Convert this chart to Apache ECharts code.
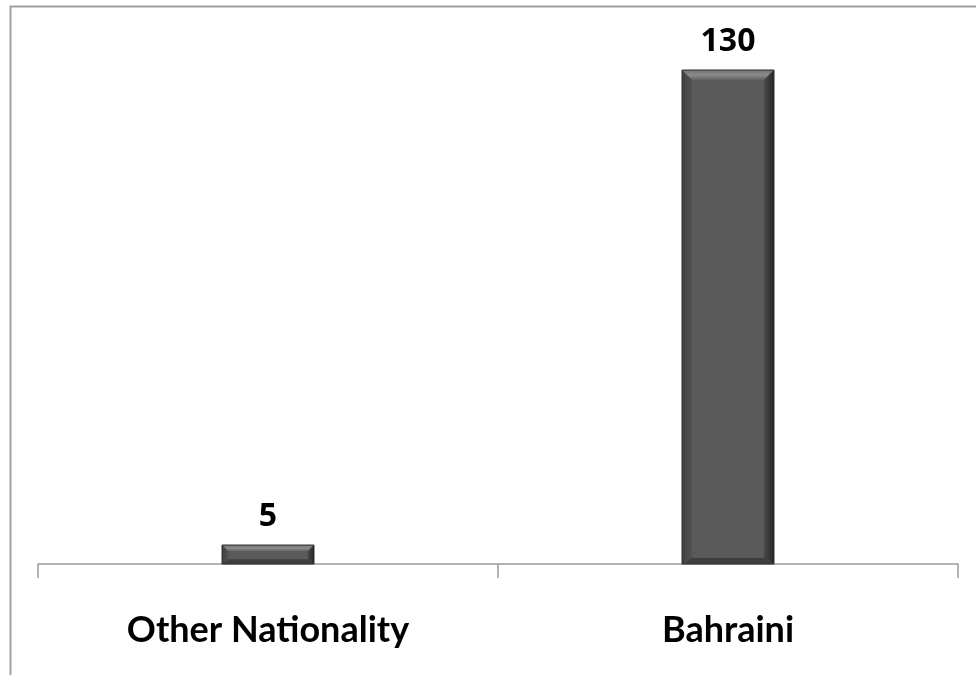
<!DOCTYPE html>
<html><head><meta charset="utf-8">
<script src="https://cdn.jsdelivr.net/npm/echarts@6/dist/echarts.min.js"></script>
<style>html,body{margin:0;padding:0;background:#fff}#c{width:976px;height:675px}</style>
</head><body><div id="c"></div>
<script>
const categories = ["Other Nationality", "Bahraini"];
const values = [5, 130];

const chart = echarts.init(document.getElementById('c'), null, {renderer: 'canvas'});

function renderBevel(params, api) {
  const v = api.value(1);
  const idx = api.value(0);
  const top = api.coord([idx, v]);
  const base = api.coord([idx, 0]);
  const bw = api.size([1, 0])[0] * 0.2;
  const x0 = top[0] - bw / 2, x1 = top[0] + bw / 2;
  const y0 = top[1], y1 = base[1];
  const h = y1 - y0;
  const b = Math.min(10, h / 3);
  const bb = Math.min(6, h / 4);
  return {
    type: 'group',
    children: [
      {type: 'rect', shape: {x: x0, y: y0, width: bw, height: h}, style: {fill: '#5a5a5a'}},
      {type: 'polygon', shape: {points: [[x0, y0], [x1, y0], [x1 - b, y0 + b], [x0 + b, y0 + b]]},
        style: {fill: new echarts.graphic.LinearGradient(0, 0, 0, 1, [{offset: 0, color: '#707070'}, {offset: 0.5, color: '#8c8c8c'}, {offset: 1, color: '#606060'}])}},
      {type: 'polygon', shape: {points: [[x0, y0], [x0 + b, y0 + b], [x0 + b, y1 - bb], [x0, y1]]},
        style: {fill: new echarts.graphic.LinearGradient(0, 0, 1, 0, [{offset: 0, color: '#404040'}, {offset: 1, color: '#525252'}])}},
      {type: 'polygon', shape: {points: [[x1, y0], [x1 - b, y0 + b], [x1 - b, y1 - bb], [x1, y1]]},
        style: {fill: new echarts.graphic.LinearGradient(0, 0, 1, 0, [{offset: 0, color: '#4a4a4a'}, {offset: 1, color: '#262626'}])}},
      {type: 'polygon', shape: {points: [[x0, y1], [x0 + b, y1 - bb], [x1 - b, y1 - bb], [x1, y1]]},
        style: {fill: '#3e3e3e'}},
      {type: 'rect', shape: {x: x0, y: y0, width: bw, height: h}, style: {fill: 'none', stroke: '#2e2e2e', lineWidth: 1}},
      {type: 'text', x: top[0], y: y0 - 12,
        style: {text: String(v), fill: '#000', font: 'bold 32px "Open Sans", sans-serif', align: 'center', verticalAlign: 'bottom'}}
    ]
  };
}

chart.setOption({
  animation: false,
  backgroundColor: '#fff',
  graphic: [{type: 'rect', left: 8, top: 4, shape: {width: 1100, height: 1000}, style: {fill: 'none', stroke: '#a0a0a0', lineWidth: 2}, silent: true}],
  grid: {left: 38, right: 18, top: 70, bottom: 111, containLabel: false},
  xAxis: {
    type: 'category', data: categories, boundaryGap: true,
    axisLine: {lineStyle: {color: '#9a9a9a', width: 1.5}},
    axisTick: {show: true, length: 14, lineStyle: {color: '#9a9a9a', width: 1.5}},
    axisLabel: {color: '#000', fontSize: 36, fontWeight: 'bold', fontFamily: 'Lato, sans-serif', margin: 48}
  },
  yAxis: {type: 'value', min: 0, max: 130, show: false, splitLine: {show: false}},
  series: [{
    type: 'custom',
    renderItem: renderBevel,
    encode: {x: 0, y: 1},
    data: values.map((v, i) => [i, v])
  }]
});
</script></body></html>
